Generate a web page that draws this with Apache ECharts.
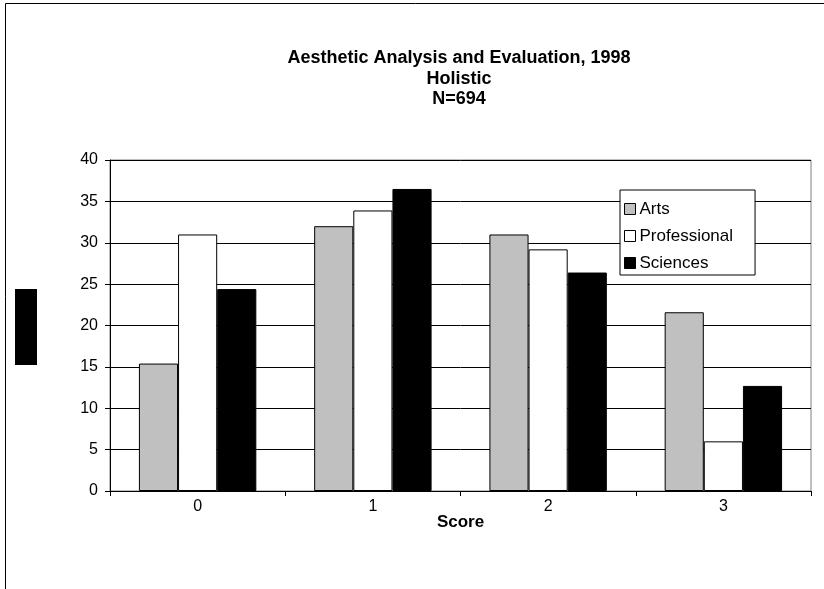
<!DOCTYPE html>
<html><head><meta charset="utf-8">
<script src="https://cdn.jsdelivr.net/npm/echarts@6/dist/echarts.min.js"></script>
<style>html,body{margin:0;padding:0;background:#fff}#c{width:824px;height:589px}</style>
</head><body><div id="c"></div>
<script>
const categories = ['0', '1', '2', '3'];
const arts = [15.4, 32.0, 31.0, 21.6];
const professional = [31.0, 33.9, 29.2, 6.0];
const sciences = [24.4, 36.5, 26.4, 12.7];
const seriesNames = ['Arts', 'Professional', 'Sciences'];
const titleLines = ['Aesthetic Analysis and Evaluation, 1998', 'Holistic', 'N=694'];
const xTitle = 'Score';
const yTitle = 'Percent';

const font = 'Liberation Sans, Arial, sans-serif';
const chart = echarts.init(document.getElementById('c'), null, {renderer: 'canvas'});
const colors = ['#c0c0c0', '#ffffff', '#000000'];
const mk = (name, data, i) => ({
  name, type: 'bar', data, barGap: '0%', barCategoryGap: '33%',
  itemStyle: {color: colors[i], borderColor: '#000', borderWidth: 1},
  emphasis: {disabled: true}
});
chart.setOption({
  animation: false,
  textStyle: {fontFamily: font},
  title: {
    text: titleLines.join('\n'), left: 459, top: 48, textAlign: 'center', padding: 0,
    textStyle: {fontFamily: font, fontSize: 18, fontWeight: 'bold', color: '#000', lineHeight: 20.5}
  },
  legend: {
    orient: 'vertical', left: 620, top: 190,
    padding: [9, 22, 2, 4], itemGap: 7,
    borderColor: '#000', borderWidth: 1, backgroundColor: '#fff',
    icon: 'rect', itemWidth: 11, itemHeight: 11,
    itemStyle: {borderColor: '#000', borderWidth: 1},
    textStyle: {fontFamily: font, fontSize: 17, lineHeight: 20, color: '#000', padding: [0, 0, 0, -1]},
    data: seriesNames
  },
  grid: {left: 110, right: 13, top: 160, bottom: 98, show: true, borderColor: '#808080', borderWidth: 1, backgroundColor: 'transparent'},
  xAxis: {
    type: 'category', data: categories,
    name: xTitle, nameLocation: 'middle', nameGap: 23, nameMoveOverlap: false,
    nameTextStyle: {fontFamily: font, fontSize: 17, fontWeight: 'bold', color: '#000'},
    axisLine: {lineStyle: {color: '#000', width: 1}},
    axisTick: {show: true, alignWithLabel: false, length: 5, lineStyle: {color: '#000'}},
    axisLabel: {fontFamily: font, fontSize: 16, color: '#000', margin: 8},
    splitLine: {show: false}
  },
  yAxis: {
    type: 'value', min: 0, max: 40, interval: 5,
    axisLine: {show: true, lineStyle: {color: '#000', width: 1}},
    axisTick: {show: true, length: 5, lineStyle: {color: '#000'}},
    axisLabel: {fontFamily: font, fontSize: 16, color: '#000', margin: 12},
    splitLine: {show: true, lineStyle: {color: '#000', width: 1}}
  },
  graphic: [
    {type: 'rect', left: 3, top: 1, shape: {width: 830, height: 600}, style: {fill: 'none', stroke: '#000', lineWidth: 1}, silent: true},
    {type: 'rect', left: 15, top: 289, shape: {width: 22, height: 76}, style: {fill: '#000'}, silent: true},
    {type: 'text', left: 17, top: 300, rotation: Math.PI / 2, style: {text: yTitle, fill: '#000', font: 'bold 14px ' + font}, silent: true}
  ],
  series: [mk(seriesNames[0], arts, 0), mk(seriesNames[1], professional, 1), mk(seriesNames[2], sciences, 2)]
});
</script></body></html>
